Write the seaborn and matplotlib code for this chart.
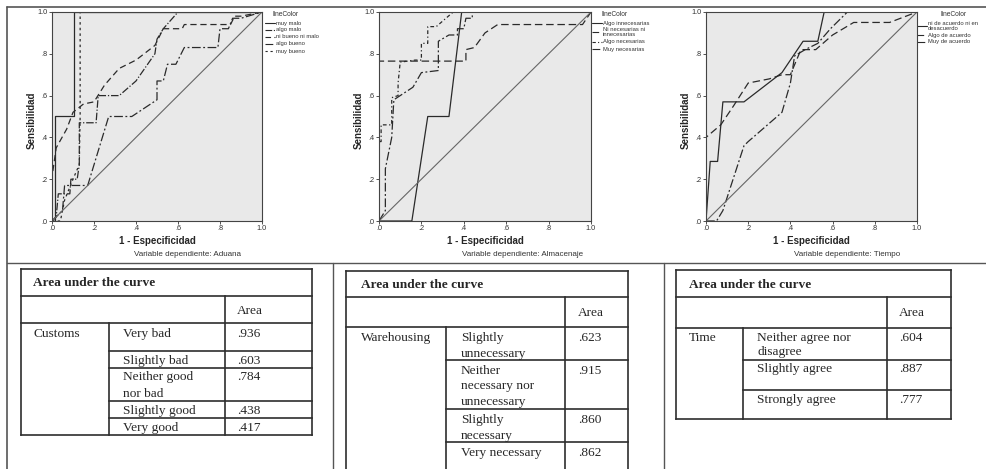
import matplotlib
matplotlib.use('Agg')
import matplotlib.pyplot as plt
import seaborn as sns
import pandas as pd

sns.set_style('white')
plt.rcParams['font.family'] = ['Liberation Sans', 'DejaVu Sans']

W, H = 987, 469

tick_vals = [0, 0.2, 0.4, 0.6, 0.8, 1.0]
tick_labels = ['.0', '.2', '.4', '.6', '.8', '1.0']

# ---- ROC curves (1 - especificidad, sensibilidad) ----
aduana_labels = ['muy malo', 'algo malo', 'ni bueno ni malo', 'algo bueno', 'muy bueno']
aduana_fpr = [
    [0, 0.014, 0.014, 0.105, 0.105, 1.0],
    [0, 0.02, 0.03, 0.085, 0.09, 0.12, 0.13, 0.13, 0.21, 0.22, 0.32, 0.4, 0.49, 0.5, 0.53, 0.6, 1.0],
    [0, 0, 0.02, 0.07, 0.1, 0.15, 0.2, 0.25, 0.32, 0.4, 0.49, 0.53, 0.62, 0.63, 0.85, 0.87, 0.9, 1.0],
    [0, 0.05, 0.06, 0.17, 0.27, 0.38, 0.5, 0.5, 0.53, 0.55, 0.59, 0.63, 0.79, 0.8, 0.84, 0.86, 0.9, 1.0],
    [0, 0.04, 0.06, 0.1, 0.13, 0.134, 0.134, 1.0],
]
aduana_tpr = [
    [0, 0, 0.5, 0.5, 1.0, 1.0],
    [0, 0.02, 0.13, 0.13, 0.2, 0.2, 0.27, 0.47, 0.47, 0.6, 0.6, 0.67, 0.8, 0.87, 0.92, 1.0, 1.0],
    [0, 0.21, 0.35, 0.44, 0.52, 0.56, 0.57, 0.65, 0.73, 0.77, 0.84, 0.92, 0.92, 0.94, 0.94, 0.98, 0.98, 1.0],
    [0, 0.05, 0.17, 0.17, 0.5, 0.5, 0.58, 0.67, 0.67, 0.75, 0.75, 0.83, 0.83, 0.92, 0.92, 0.97, 0.97, 1.0],
    [0, 0, 0.1, 0.2, 0.27, 0.5, 1.0, 1.0],
]

almacenaje_labels = ['Algo innecesarias', 'Ni necesarias ni\ninnecesarias', 'Algo necesarias', 'Muy necesarias']
almacenaje_fpr = [
    [0, 0.155, 0.23, 0.33, 0.39, 1.0],
    [0, 0, 0.41, 0.41, 0.45, 0.5, 0.56, 0.96, 1.0],
    [0, 0, 0.01, 0.01, 0.06, 0.06, 0.09, 0.09, 0.1, 0.17, 0.2, 0.2, 0.23, 0.23, 0.27, 0.35, 1.0],
    [0, 0.03, 0.03, 0.06, 0.07, 0.1, 0.16, 0.2, 0.28, 0.28, 0.33, 0.37, 0.37, 0.4, 0.41, 0.44, 0.44, 1.0],
]
almacenaje_tpr = [
    [0, 0, 0.5, 0.5, 1.0, 1.0],
    [0, 0.765, 0.765, 0.82, 0.83, 0.9, 0.94, 0.94, 1.0],
    [0, 0.38, 0.38, 0.46, 0.46, 0.59, 0.6, 0.66, 0.76, 0.77, 0.77, 0.85, 0.85, 0.93, 0.93, 1.0, 1.0],
    [0, 0.05, 0.25, 0.4, 0.58, 0.6, 0.64, 0.71, 0.72, 0.86, 0.89, 0.89, 0.92, 0.92, 0.97, 0.97, 1.0, 1.0],
]

tiempo_labels = ['ni de acuerdo ni en\ndesacuerdo', 'Algo de acuerdo', 'Muy de acuerdo']
tiempo_fpr = [
    [0, 0.02, 0.055, 0.08, 0.18, 0.36, 0.38, 0.46, 0.53, 0.56, 1.0],
    [0, 0, 0.07, 0.13, 0.2, 0.3, 0.36, 0.4, 0.45, 0.52, 0.6, 0.7, 0.87, 1.0],
    [0, 0.05, 0.08, 0.18, 0.2, 0.36, 0.4, 0.42, 0.47, 0.53, 0.59, 0.67, 1.0],
]
tiempo_tpr = [
    [0, 0.285, 0.285, 0.57, 0.57, 0.71, 0.74, 0.86, 0.86, 1.0, 1.0],
    [0, 0.4, 0.46, 0.55, 0.66, 0.68, 0.7, 0.7, 0.82, 0.82, 0.89, 0.95, 0.95, 1.0],
    [0, 0, 0.05, 0.36, 0.38, 0.52, 0.66, 0.79, 0.82, 0.85, 0.92, 1.0, 1.0],
]

# ---- Area under the curve tables ----
customs_items = ['Very bad', 'Slightly bad', 'Neither good\nnor bad', 'Slightly good', 'Very good']
customs_auc = ['.936', '.603', '.784', '.438', '.417']
warehousing_items = ['Slightly\nunnecessary', 'Neither\nnecessary nor\nunnecessary', 'Slightly\nnecessary', 'Very necessary']
warehousing_auc = ['.623', '.915', '.860', '.862']
time_items = ['Neither agree nor\ndisagree', 'Slightly agree', 'Strongly agree']
time_auc = ['.604', '.887', '.777']

line_dark = '#2a2a2a'
style_5 = ['-', (0, (6, 1.5, 1, 1.5)), (0, (5, 3)), (0, (7, 2, 1.5, 2)), (0, (2, 2.5))]
style_4 = ['-', (0, (6, 3)), (0, (3, 2, 1, 2)), (0, (7, 2, 1.5, 2))]
style_3 = ['-', (0, (6, 3)), (0, (7, 2, 1.5, 2))]

fig = plt.figure(figsize=(W / 100, H / 100), dpi=100)
ov = fig.add_axes([0, 0, 1, 1])
ov.set_xlim(0, W)
ov.set_ylim(H, 0)
ov.axis('off')

# page frame lines
frame = '#555555'
ov.plot([7, W], [7, 7], color=frame, lw=1.2)
ov.plot([7, 7], [7, H], color=frame, lw=1.2)
ov.plot([7, W], [263, 263], color=frame, lw=1.0)
ov.plot([333, 333], [263, H], color=frame, lw=1.0)
ov.plot([664, 664], [263, H], color=frame, lw=1.0)


def roc_panel(left, right, fprs, tprs, labels, styles, dep, leg):
    ax = fig.add_axes([left / W, 1 - 221 / H, (right - left) / W, 209 / H])
    ax.set_facecolor('#e9e9e9')
    for fx, ty, ls in zip(fprs, tprs, styles):
        df = pd.DataFrame({'fpr': fx, 'tpr': ty})
        sns.lineplot(data=df, x='fpr', y='tpr', ax=ax, sort=False, estimator=None,
                     color=line_dark, linestyle=ls, linewidth=0.9)
    ax.plot([0, 1], [0, 1], color='#666666', lw=0.8)
    ax.set_xlim(0, 1)
    ax.set_ylim(0, 1)
    ax.set_xticks(tick_vals)
    ax.set_xticklabels(tick_labels)
    ax.set_yticks(tick_vals)
    ax.set_yticklabels(tick_labels)
    ax.tick_params(labelsize=5.3, length=2, width=0.6, pad=1, colors='#333333', direction='out',
                   bottom=True, left=True)
    ax.set_xlabel('')
    ax.set_ylabel('')
    for s in ax.spines.values():
        s.set_color('#444444')
        s.set_linewidth(0.8)
    mid = (left + right) / 2
    ov.text(mid, 241, '1 - Especificidad', ha='center', va='center', fontsize=7, fontweight='bold')
    ov.text(left - 20, 120, 'Sensibilidad', ha='center', va='center', rotation=90,
            fontsize=7, fontweight='bold')
    ov.text(mid + dep[1], 254, 'Variable dependiente: ' + dep[0], ha='center', va='center',
            fontsize=5.8, color='#333333')
    # legend
    lx, title_x, ys = leg
    ov.text(title_x, 15, 'lineColor', ha='center', va='center', fontsize=4.8, color='#333333')
    for lab, ls, yy in zip(labels, styles, ys):
        ov.plot([lx, lx + 10], [yy, yy], color=line_dark, lw=0.8, linestyle=ls)
        ov.text(lx + 11, yy, lab, ha='left', va='center', fontsize=4.2, color='#333333',
                linespacing=0.95)
    return ax


roc_panel(52, 262, aduana_fpr, aduana_tpr, aduana_labels, style_5, ('Aduana', 30),
          (265, 286, [23, 30, 37, 44, 51]))
roc_panel(379, 591, almacenaje_fpr, almacenaje_tpr, almacenaje_labels, style_4, ('Almacenaje', 38),
          (592, 615, [23, 32, 42, 49]))
roc_panel(706, 917, tiempo_fpr, tiempo_tpr, tiempo_labels, style_3, ('Tiempo', 36),
          (917, 954, [26, 35, 42]))

serif = ['Liberation Serif', 'DejaVu Serif']
tab_fs = 9.6
tab_lw = 1.2
tab_col = '#2e2e2e'


def auc_table(x, top, y_title, y_head, row_bottoms, bottom, group, items, aucs, first_centers, step, text_x):
    x0, c1, c2, x1 = x
    seg = lambda xa, xb, ya, yb: ov.plot([xa, xb], [ya, yb], color=tab_col, lw=tab_lw,
                                         solid_capstyle='projecting')
    seg(x0, x1, top, top)
    seg(x0, x1, y_title, y_title)
    seg(x0, x1, y_head, y_head)
    for yb in row_bottoms:
        seg(c1, x1, yb, yb)
    if bottom is not None:
        seg(x0, x1, bottom, bottom)
    yend = bottom if bottom is not None else H + 2
    seg(x0, x0, top, yend)
    seg(x1, x1, top, yend)
    seg(c2, c2, y_title, yend)
    seg(c1, c1, y_head, yend)
    ov.text(text_x[0], (top + y_title) / 2 + 4, 'Area under the curve', ha='left', va='baseline',
            fontsize=tab_fs, fontweight='bold', family=serif)
    ov.text(text_x[2], (y_title + y_head) / 2 + 4, 'Area', ha='left', va='baseline',
            fontsize=tab_fs, family=serif)
    ov.text(text_x[0], first_centers[0] + 4, group, ha='left', va='baseline',
            fontsize=tab_fs, family=serif)
    for item, auc, yc in zip(items, aucs, first_centers):
        for k, part in enumerate(item.split('\n')):
            ov.text(text_x[1], yc + 4 + k * step, part, ha='left', va='baseline',
                    fontsize=tab_fs, family=serif)
        ov.text(text_x[2], yc + 4, auc, ha='left', va='baseline', fontsize=tab_fs, family=serif)


auc_table((21, 109, 225, 312), 269, 296, 323, [351, 368, 401, 418], 435, 'Customs',
          customs_items, customs_auc, [333, 360, 376, 410, 427], 17, (33, 123, 237))
auc_table((346, 446, 565, 628), 271, 297, 327, [360, 409, 442], None, 'Warehousing',
          warehousing_items, warehousing_auc, [337, 370, 419, 452], 15.5, (361, 461, 578))
auc_table((676, 743, 887, 951), 270, 297, 328, [360, 390], 419, 'Time',
          time_items, time_auc, [337, 368, 399], 14, (689, 757, 899))

fig.savefig('out.png', dpi=100)
